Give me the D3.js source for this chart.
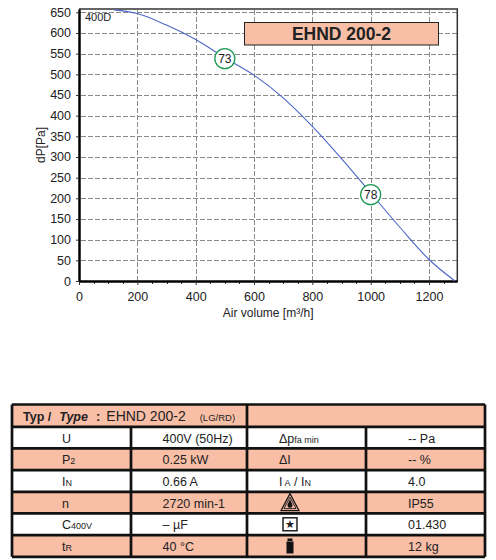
<!DOCTYPE html>
<html>
<head>
<meta charset="utf-8">
<script src="https://cdn.jsdelivr.net/npm/d3@7"></script>
<style>
  body { margin: 0; background: #fff; }
  text { font-family: "Liberation Sans", Arial, sans-serif; fill: #222; }
</style>
</head>
<body>
<script>
/////////////////////////////////////////////////////
////////////// data //////////////
/////////////////////////////////////////////////////

// fan curve: air volume [m3/h] vs static pressure [Pa]
const airVolume = [120, 200, 300, 400, 500, 600, 700, 800, 900, 1000, 1100, 1200, 1289];
const pressure  = [656, 647, 619, 584, 540, 498, 443, 374, 296, 213, 130, 52, 0];

// operating points with sound level badges
const opVolume   = [500, 1000];
const opPressure = [538, 209];
const opLabel    = ['73', '78'];

// axis ticks
const xTicks = [0, 200, 400, 600, 800, 1000, 1200];
const yTicks = [0, 50, 100, 150, 200, 250, 300, 350, 400, 450, 500, 550, 600, 650];

const curveName = '400D';
const modelName = 'EHND 200-2';

// data table: label pieces are [text, isSubscript]
const leftLabels = [
    [['U', 0]],
    [['P', 0], ['2', 1]],
    [['I', 0], ['N', 1]],
    [['n', 0]],
    [['C', 0], ['400V', 1]],
    [['t', 0], ['R', 1]]
];
const leftValues = ['400V (50Hz)', '0.25 kW', '0.66 A', '2720 min-1', '\u2013 \u00b5F', ' 40 \u00b0C'];
const rightLabels = [
    [['\u0394p', 0], ['fa min', 1]],
    [['\u0394I', 0]],
    [['I', 0], [' A', 1], [' / ', 0], ['I', 0], ['N', 1]],
    'ip', 'star', 'weight'
];
const rightValues = ['-- Pa', '-- %', '4.0', 'IP55', '01.430', '12 kg'];

/////////////////////////////////////////////////////
///////////////////// the chart /////////////////////
/////////////////////////////////////////////////////

const salmon = '#f8bea6';

const svg = d3.select('body')
    .append('svg')
    .attr('width', 496)
    .attr('height', 560);

// plot box in pixels
const plot = { left: 79, right: 457.3, top: 9, bottom: 281 };

const x = d3.scaleLinear().domain([0, 1297]).range([plot.left, plot.right]);
const y = d3.scaleLinear().domain([0, 658]).range([plot.bottom, plot.top]);

// snap to the pixel grid
const crisp = v => Math.round(v) + 0.5;

// grid lines: long dashes so they hold up in the photo
const grid = svg.append('g')
    .attr('stroke', '#8a8a8a')
    .attr('stroke-width', 1)
    .attr('stroke-dasharray', '5,2');

grid.selectAll('line.v')
    .data(xTicks.filter(d => d > 0))
    .join('line')
    .attr('class', 'v')
    .attr('x1', d => crisp(x(d))).attr('x2', d => crisp(x(d)))
    .attr('y1', plot.top + 1).attr('y2', plot.bottom);

grid.selectAll('line.h')
    .data(yTicks.filter(d => d > 0))
    .join('line')
    .attr('class', 'h')
    .attr('x1', plot.left + 2).attr('x2', plot.right)
    .attr('y1', d => crisp(y(d))).attr('y2', d => crisp(y(d)));

// top + right frame
svg.append('path')
    .attr('d', `M${plot.left},${plot.top}H${plot.right}V${plot.bottom}`)
    .attr('fill', 'none')
    .attr('stroke', '#333')
    .attr('stroke-width', 1.5);

// minor ticks on x every 50
svg.append('g')
    .selectAll('line')
    .data(d3.range(50, 1297, 50).filter(d => d % 200 !== 0))
    .join('line')
    .attr('x1', d => crisp(x(d))).attr('x2', d => crisp(x(d)))
    .attr('y1', plot.bottom).attr('y2', plot.bottom + 3)
    .attr('stroke', '#333');

// axes
const xAxis = svg.append('g')
    .attr('transform', `translate(0, ${plot.bottom})`)
    .call(d3.axisBottom(x).tickValues(xTicks).tickFormat(d3.format('d'))
        .tickSize(4).tickPadding(7).tickSizeOuter(0));

const yAxis = svg.append('g')
    .attr('transform', `translate(${plot.left}, 0)`)
    .call(d3.axisLeft(y).tickValues(yTicks).tickFormat(d3.format('d'))
        .tickSize(3).tickPadding(5).tickSizeOuter(0));

[xAxis, yAxis].forEach(ax => {
    ax.select('.domain').attr('stroke', '#000').attr('stroke-width', 2.5);
    ax.selectAll('.tick line').attr('stroke', '#333');
    ax.selectAll('.tick text')
        .attr('font-family', '"Liberation Sans", Arial, sans-serif')
        .attr('font-size', 12.5)
        .attr('fill', '#222');
});

// axis titles
svg.append('text')
    .attr('x', (plot.left + plot.right) / 2)
    .attr('y', 317)
    .attr('text-anchor', 'middle')
    .attr('font-size', 12)
    .text('Air volume [m\u00b3/h]');

svg.append('text')
    .attr('transform', `translate(45, ${(plot.top + plot.bottom) / 2}) rotate(-90)`)
    .attr('text-anchor', 'middle')
    .attr('font-size', 12)
    .text('dP[Pa]');

// the fan curve
const line = d3.line()
    .x(d => x(d[0]))
    .y(d => y(d[1]))
    .curve(d3.curveMonotoneX);

svg.append('path')
    .datum(d3.zip(airVolume, pressure))
    .attr('d', line)
    .attr('fill', 'none')
    .attr('stroke', '#4d66c8')
    .attr('stroke-width', 1.1);

// curve name in the corner
svg.append('text')
    .attr('x', plot.left + 6)
    .attr('y', plot.top + 12)
    .attr('font-size', 11)
    .text(curveName);

// sound level badges
const badges = svg.selectAll('g.badge')
    .data(d3.zip(opVolume, opPressure, opLabel))
    .join('g')
    .attr('transform', d => `translate(${x(d[0])}, ${y(d[1])})`);

badges.append('circle')
    .attr('r', 10)
    .attr('fill', '#fff')
    .attr('stroke', '#1f9a55')
    .attr('stroke-width', 1.3);

badges.append('text')
    .attr('text-anchor', 'middle')
    .attr('dy', '0.36em')
    .attr('font-size', 12)
    .text(d => d[2]);

// model title box
svg.append('rect')
    .attr('x', 244.5).attr('y', 22.5)
    .attr('width', 194).attr('height', 22.5)
    .attr('fill', salmon)
    .attr('stroke', '#222')
    .attr('stroke-width', 1);

svg.append('text')
    .attr('x', 341.5).attr('y', 40)
    .attr('text-anchor', 'middle')
    .attr('font-size', 17.5)
    .attr('font-weight', 'bold')
    .text(modelName);

/////////////////////////////////////////////////////
/////////////////// the data table //////////////////
/////////////////////////////////////////////////////

const cols = [12, 131, 247, 366, 485];
const headTop = 404.5;
const rows = d3.scaleBand()
    .domain(d3.range(leftLabels.length))
    .range([426.8, 556.8]);

const table = svg.append('g');

// header cells
table.selectAll('rect.head')
    .data([[cols[0], cols[2]], [cols[2], cols[4]]])
    .join('rect')
    .attr('x', d => d[0]).attr('y', headTop)
    .attr('width', d => d[1] - d[0]).attr('height', rows.range()[0] - headTop)
    .attr('fill', salmon);

// body cells, alternating white / salmon
rows.domain().forEach(r => {
    table.selectAll(null)
        .data(d3.pairs(cols))
        .enter().append('rect')
        .attr('x', d => d[0]).attr('y', rows(r))
        .attr('width', d => d[1] - d[0]).attr('height', rows.bandwidth())
        .attr('fill', r % 2 ? salmon : '#fff');
});

// thick rules
const rule = table.append('g').attr('stroke', '#111').attr('stroke-width', 2.7);
[headTop, ...rows.domain().map(r => rows(r)), rows.range()[1]].forEach(yy => {
    rule.append('line').attr('x1', cols[0]).attr('x2', cols[4]).attr('y1', yy).attr('y2', yy);
});
[cols[0], cols[2], cols[4]].forEach(xx => {
    rule.append('line').attr('x1', xx).attr('x2', xx).attr('y1', headTop).attr('y2', rows.range()[1]);
});
[cols[1], cols[3]].forEach(xx => {
    rule.append('line').attr('x1', xx).attr('x2', xx).attr('y1', rows.range()[0]).attr('y2', rows.range()[1]);
});

// header text
const head = table.append('text')
    .attr('x', 23)
    .attr('y', 421)
    .attr('font-family', '"Liberation Sans", Arial, sans-serif');
head.append('tspan').attr('font-size', 12.5).attr('font-weight', 'bold').text('Typ /');
head.append('tspan').attr('dx', 8).attr('font-size', 12.5).attr('font-weight', 'bold').attr('font-style', 'italic').text('Type');
head.append('tspan').attr('dx', 8).attr('font-size', 13).attr('font-weight', 'bold').text(':');
head.append('tspan').attr('dx', 6).attr('font-size', 14).text(modelName);
head.append('tspan').attr('dx', 14).attr('font-size', 9.5).text('(LG/RD)');

// writes a label built from normal + subscript pieces
const writeLabel = (sel, pieces) => {
    pieces.forEach(p => {
        sel.append('tspan')
            .attr('font-size', p[1] ? 9 : 12.5)
            .text(p[0]);
    });
};

const baseline = r => rows(r) + rows.bandwidth() / 2 + 5;

leftLabels.forEach((lab, r) => {
    const t = table.append('text').attr('x', cols[0] + 50).attr('y', baseline(r));
    writeLabel(t, lab);
    table.append('text')
        .attr('x', cols[1] + 31.5).attr('y', baseline(r))
        .attr('font-size', 12.5)
        .text(leftValues[r]);
});

rightLabels.forEach((lab, r) => {
    const cx = cols[2] + 43;
    const cy = rows(r) + rows.bandwidth() / 2;
    if (Array.isArray(lab)) {
        const t = table.append('text').attr('x', cols[2] + 32).attr('y', baseline(r));
        writeLabel(t, lab);
    } else if (lab === 'ip') {
        // warning triangle with a drop
        const g = table.append('g').attr('transform', `translate(${cx}, ${cy})`);
        g.append('path').attr('d', 'M0,-9L9,8H-9Z').attr('fill', 'none').attr('stroke', '#111').attr('stroke-width', 1.2);
        g.append('path').attr('d', 'M0,-5.5L6,6H-6Z').attr('fill', 'none').attr('stroke', '#111').attr('stroke-width', 0.9);
        g.append('path').attr('d', 'M0,-3.5C1,-1 2.5,1 2.5,2.5A2.5,2.5 0 0 1 -2.5,2.5C-2.5,1 -1,-1 0,-3.5Z').attr('fill', '#111');
    } else if (lab === 'star') {
        const g = table.append('g').attr('transform', `translate(${cx}, ${cy})`);
        g.append('rect').attr('x', -7).attr('y', -6.5).attr('width', 14).attr('height', 13)
            .attr('fill', '#fff').attr('stroke', '#111').attr('stroke-width', 1.4);
        g.append('text').attr('text-anchor', 'middle').attr('dy', '0.36em')
            .attr('font-family', '"DejaVu Sans", sans-serif').attr('font-size', 11).text('\u2605');
    } else if (lab === 'weight') {
        const g = table.append('g').attr('transform', `translate(${cx}, ${cy})`).attr('fill', '#111');
        g.append('rect').attr('x', -2.5).attr('y', -7.5).attr('width', 5).attr('height', 2.5);
        g.append('rect').attr('x', -3.5).attr('y', -4.5).attr('width', 7).attr('height', 12);
    }
    table.append('text')
        .attr('x', cols[3] + 42).attr('y', baseline(r))
        .attr('font-size', 12.5)
        .text(rightValues[r]);
});
</script>
</body>
</html>
